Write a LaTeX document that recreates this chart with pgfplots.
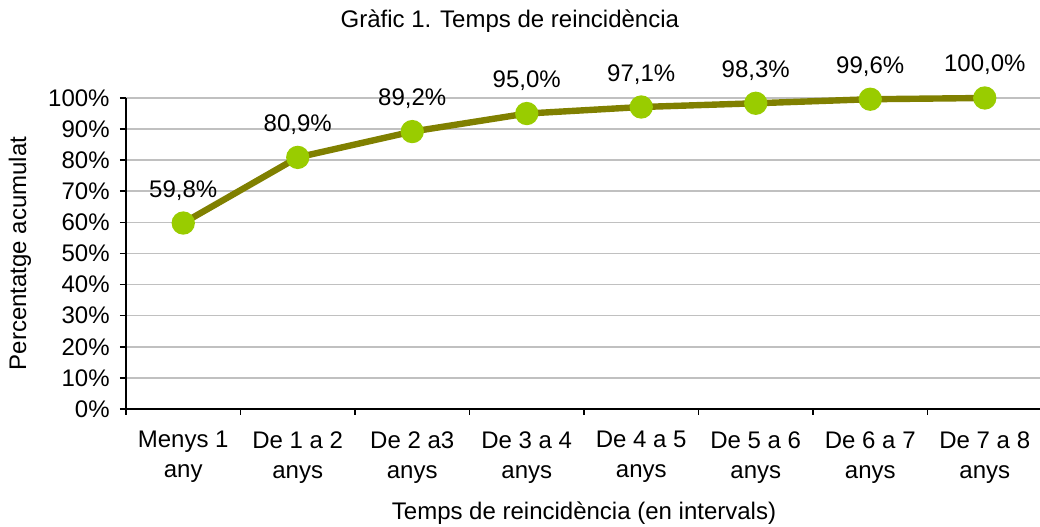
\documentclass[border=0pt]{standalone}
\usepackage{fontspec}
\setmainfont{Liberation Sans}
\usepackage{pgfplots}
\pgfplotsset{compat=1.18}
\definecolor{linecol}{HTML}{808000}
\definecolor{markcol}{HTML}{99CC00}
\definecolor{gridcol}{HTML}{C0C0C0}
\newcommand{\chfont}{\fontsize{12}{15}\selectfont}
\begin{document}
\begin{tikzpicture}
  \chfont
  \begin{axis}[scale only axis, width=458pt, height=155.5pt,
    xmin=-0.5, xmax=7.5, ymin=0, ymax=100,
    axis x line*=bottom, axis y line*=left,
    axis line style={line width=0.8pt},
    tick align=outside, major tick length=3pt,
    tick style={black, line width=0.8pt},
    xtick={-0.5,0.5,...,7.5}, x tick label as interval,
    xticklabels={{Menys 1\\any},{De 1 a 2\\anys},{De 2 a3\\anys},{De 3 a 4\\anys},
      {De 4 a 5\\anys},{De 5 a 6\\anys},{De 6 a 7\\anys},{De 7 a 8\\anys}},
    x tick label style={align=center, font=\chfont, yshift=-4pt},
    ytick={0,10,...,100},
    yticklabel={\pgfmathprintnumber{\tick}\%},
    y tick label style={font=\chfont, xshift=-1pt},
    /pgf/number format/assume math mode=true,
    ymajorgrids, grid style={gridcol, line width=0.8pt},
    title={Gràfic 1. Temps de reincidència},
    title style={at={(rel axis cs:0.419,1)}, anchor=base, yshift=29pt, font=\chfont},
    xlabel={Temps de reincidència (en intervals)},
    xlabel style={at={(rel axis cs:0.5,0)}, anchor=base, yshift=-55.5pt, font=\chfont},
    ylabel={Percentatge acumulat},
    ylabel style={at={(rel axis cs:-0.1157,0.5)}, anchor=center, font=\chfont},
    clip=false]
    \addplot[linecol, line width=3.2pt, mark=*, mark size=4.2pt,
      mark options={markcol, fill=markcol, draw=none},
      nodes near coords={\pgfmathprintnumber[fixed,fixed zerofill,precision=1,use comma]{\pgfplotspointmeta}\%},
      every node near coord/.append style={anchor=base, yshift=13pt, black, font=\chfont,
        /pgf/number format/assume math mode=true}]
      coordinates {(0,59.8) (1,80.9) (2,89.2) (3,95.0) (4,97.1) (5,98.3) (6,99.6) (7,100.0)};
  \end{axis}
  \pgfresetboundingbox
  \path ([xshift=-63pt,yshift=-59pt]current axis.south west)
        rectangle ([xshift=-1pt,yshift=49pt]current axis.north east);
\end{tikzpicture}
\end{document}
